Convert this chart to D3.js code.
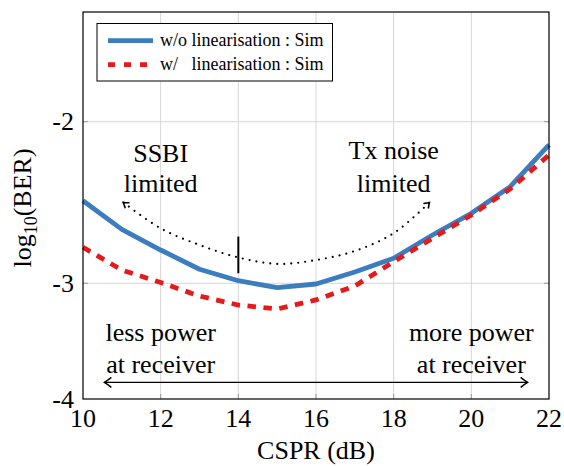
<!DOCTYPE html>
<html>
<head>
<meta charset="utf-8">
<script src="https://cdn.jsdelivr.net/npm/d3@7"></script>
<style>
  body { margin: 0; background: #fff; }
</style>
</head>
<body>
<svg id="chart" width="564" height="466"></svg>
<script>
// data
var cspr = [10, 11, 12, 13, 14, 15, 16, 17, 18, 19, 20, 21, 22];
var berWithout = [-2.489, -2.666, -2.794, -2.913, -2.984, -3.038, -3.006, -2.930, -2.845, -2.701, -2.567, -2.402, -2.144];
var berWith = [-2.777, -2.918, -2.995, -3.110, -3.188, -3.222, -3.144, -3.023, -2.866, -2.722, -2.577, -2.416, -2.206];
var seriesNames = ["w/o linearisation : Sim", "w/   linearisation : Sim"];
var xTicks = [10, 12, 14, 16, 18, 20, 22];
var yTicks = [-4, -3, -2];

// annotation: dotted trend arrow and the marker at 14 dB
var trendX = [11.04, 12, 13, 14, 15, 16, 17, 18, 18.92];
var trendY = [-2.50, -2.66, -2.763, -2.84, -2.88, -2.856, -2.80, -2.69, -2.50];
var optimumX = 14, optimumY = [-2.711, -2.938];
var powerArrowX = [10.55, 21.45], powerArrowY = -3.856;

var mLeft = 83, mRight = 549, mTop = 12, mBottom = 399;
var svg = d3.select("#chart");
var font = "'Liberation Serif'";
var redDash = "8.5,7.5";

var x = d3.scaleLinear().domain([10, 22]).range([mLeft, mRight]);
// tick spacing in the original is not even below -3, so keep it piecewise
var y = d3.scaleLinear().domain([-4, -3, -2, -1.321]).range([mBottom, 283.3, 121.7, mTop]);

// grid
svg.append("g").selectAll("line").data(xTicks.slice(1, -1)).join("line")
    .attr("x1", d => x(d)).attr("x2", d => x(d))
    .attr("y1", mTop).attr("y2", mBottom)
    .attr("stroke", "#d6d6d6").attr("stroke-width", 1);
svg.append("g").selectAll("line").data(yTicks.slice(1)).join("line")
    .attr("x1", mLeft).attr("x2", mRight)
    .attr("y1", d => y(d)).attr("y2", d => y(d))
    .attr("stroke", "#d6d6d6").attr("stroke-width", 1);

// small ticks
svg.append("g").selectAll("line").data(yTicks.slice(1)).join("line")
    .attr("x1", mLeft).attr("x2", mLeft + 5)
    .attr("y1", d => y(d)).attr("y2", d => y(d))
    .attr("stroke", "#9a9a9a");
svg.append("g").selectAll("line").data(yTicks.slice(1)).join("line")
    .attr("x1", mRight - 5).attr("x2", mRight)
    .attr("y1", d => y(d)).attr("y2", d => y(d))
    .attr("stroke", "#9a9a9a");
svg.append("g").selectAll("line").data(xTicks.slice(1, -1)).join("line")
    .attr("x1", d => x(d)).attr("x2", d => x(d))
    .attr("y1", mBottom - 5).attr("y2", mBottom)
    .attr("stroke", "#9a9a9a");

var line = d3.line().x((d, i) => x(cspr[i])).y(d => y(d));

svg.append("path")
    .attr("d", line(berWithout))
    .attr("fill", "none")
    .attr("stroke", "#3c7dbf")
    .attr("stroke-width", 4.8)
    .attr("stroke-linejoin", "round");

svg.append("path")
    .attr("d", line(berWith))
    .attr("fill", "none")
    .attr("stroke", "#e41a1c")
    .attr("stroke-width", 4.8)
    .attr("stroke-dasharray", redDash);

// arrow heads
var defs = svg.append("defs");
defs.append("marker")
    .attr("id", "head")
    .attr("viewBox", "-9 -6 11 12")
    .attr("markerUnits", "userSpaceOnUse")
    .attr("markerWidth", 11).attr("markerHeight", 12)
    .attr("refX", 0).attr("refY", 0)
    .attr("orient", "auto-start-reverse")
    .append("path")
    .attr("d", "M-7,-5 Q-2,-1.2 0,0 Q-2,1.2 -7,5")
    .attr("fill", "none").attr("stroke", "#000").attr("stroke-width", 1.4);
defs.append("marker")
    .attr("id", "headSmall")
    .attr("viewBox", "-7 -5 9 10")
    .attr("markerUnits", "userSpaceOnUse")
    .attr("markerWidth", 9).attr("markerHeight", 10)
    .attr("refX", 0).attr("refY", 0)
    .attr("orient", "auto-start-reverse")
    .append("path")
    .attr("d", "M-5,-3.5 Q-1.5,-1 0,0 Q-1.5,1 -5,3.5")
    .attr("fill", "none").attr("stroke", "#000").attr("stroke-width", 1.6);

var trendLine = d3.line()
    .x((d, i) => x(trendX[i])).y(d => y(d))
    .curve(d3.curveCatmullRom);
svg.append("path")
    .attr("d", trendLine(trendY))
    .attr("fill", "none")
    .attr("stroke", "#000")
    .attr("stroke-width", 2.2)
    .attr("stroke-linecap", "round")
    .attr("stroke-dasharray", "0,7")
    .attr("marker-start", "url(#headSmall)")
    .attr("marker-end", "url(#headSmall)");

svg.append("line")
    .attr("x1", x(optimumX)).attr("x2", x(optimumX))
    .attr("y1", y(optimumY[0])).attr("y2", y(optimumY[1]))
    .attr("stroke", "#000").attr("stroke-width", 2);

svg.append("line")
    .attr("x1", x(powerArrowX[0])).attr("x2", x(powerArrowX[1]))
    .attr("y1", y(powerArrowY)).attr("y2", y(powerArrowY))
    .attr("stroke", "#000").attr("stroke-width", 1.4)
    .attr("marker-start", "url(#head)")
    .attr("marker-end", "url(#head)");

// annotation text
var notes = [
  { t: "SSBI", x: 12, y: -2.248 },
  { t: "limited", x: 12, y: -2.433 },
  { t: "Tx noise", x: 18, y: -2.228 },
  { t: "limited", x: 18, y: -2.433 },
  { t: "less power", x: 12, y: -3.50 },
  { t: "at receiver", x: 12, y: -3.776 },
  { t: "more power", x: 20, y: -3.50 },
  { t: "at receiver", x: 20, y: -3.776 }
];
svg.append("g").selectAll("text").data(notes).join("text")
    .attr("x", d => x(d.x)).attr("y", d => y(d.y))
    .attr("text-anchor", "middle")
    .attr("font-family", font)
    .attr("font-size", 26)
    .text(d => d.t);

// frame
svg.append("rect")
    .attr("x", mLeft).attr("y", mTop)
    .attr("width", mRight - mLeft).attr("height", mBottom - mTop)
    .attr("fill", "none").attr("stroke", "#000").attr("stroke-width", 1.2);

// tick labels
svg.append("g").selectAll("text").data(xTicks).join("text")
    .attr("x", d => x(d)).attr("y", 427)
    .attr("text-anchor", "middle")
    .attr("font-family", font)
    .attr("font-size", 26)
    .text(d => d);
svg.append("g").selectAll("text").data(yTicks).join("text")
    .attr("x", 74).attr("y", d => y(d))
    .attr("dy", "0.33em")
    .attr("text-anchor", "end")
    .attr("font-family", font)
    .attr("font-size", 26)
    .text(d => d);

// axis titles
svg.append("text")
    .attr("x", (mLeft + mRight) / 2).attr("y", 459)
    .attr("text-anchor", "middle")
    .attr("font-family", font)
    .attr("font-size", 26)
    .text("CSPR (dB)");

var yTitle = svg.append("text")
    .attr("transform", "translate(31,208) rotate(-90)")
    .attr("text-anchor", "middle")
    .attr("font-family", font)
    .attr("font-size", 26);
yTitle.append("tspan").text("log");
yTitle.append("tspan").attr("font-size", 18).attr("dy", 6).text("10");
yTitle.append("tspan").attr("dy", -6).text("(BER)");

// legend
var lg = svg.append("g");
lg.append("rect")
    .attr("x", 97).attr("y", 23.5)
    .attr("width", 235.5).attr("height", 57.5)
    .attr("fill", "#fff").attr("stroke", "#000").attr("stroke-width", 1);
var legendStyles = [
  { color: "#3c7dbf", dash: null },
  { color: "#e41a1c", dash: "7,9" }
];
seriesNames.forEach(function (name, i) {
  var ly = 40.7 + i * 24;
  lg.append("line")
      .attr("x1", 108).attr("x2", 153)
      .attr("y1", ly).attr("y2", ly)
      .attr("stroke", legendStyles[i].color)
      .attr("stroke-width", 4.8)
      .attr("stroke-dasharray", legendStyles[i].dash);
  lg.append("text")
      .attr("x", 160).attr("y", ly + 5.5)
      .attr("font-family", font)
      .attr("font-size", 18)
      .style("white-space", "pre")
      .text(name);
});
</script>
</body>
</html>
